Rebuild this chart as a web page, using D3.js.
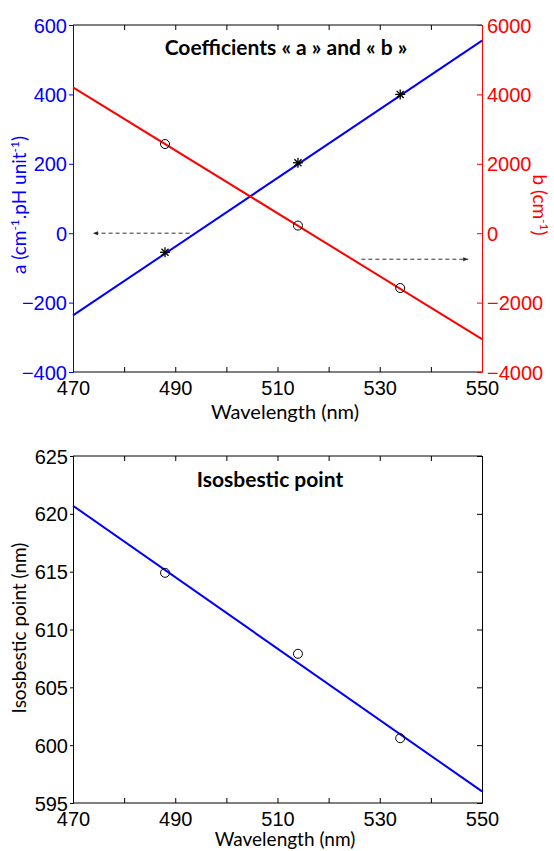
<!DOCTYPE html>
<html>
<head>
<meta charset="utf-8">
<script src="https://cdn.jsdelivr.net/npm/d3@7"></script>
<style>
  body { margin: 0; background: #fff; }
  svg { display: block; font-family: Lato, "Open Sans", sans-serif; }
</style>
</head>
<body>
<svg id="chart" width="554" height="851"></svg>
<script>
// measured wavelengths (nm)
const wavelengths = [488, 514, 534];
// coefficient a (cm-1.pH unit-1) and b (cm-1)
const aValues = [-55, 203, 400];
const bValues = [2570, 220, -1580];
// linear fits drawn across the whole range
const fitX = [470, 550];
const aFit = [-237, 555];
const bFit = [4200, -3050];
// isosbestic point (nm)
const isoValues = [614.9, 607.9, 600.6];
const isoFit = [620.7, 596.0];
// arrows pointing to the matching axis
const arrowA = { x: [492.8, 473.9], y: 0 };
const arrowB = { x: [526.4, 547.3], y: -750 };

const xTicks = [470, 490, 510, 530, 550];
const xMinor = d3.range(470, 551, 10);
const aTicks = [-400, -200, 0, 200, 400, 600];
const bTicks = [-4000, -2000, 0, 2000, 4000, 6000];
const isoTicks = [595, 600, 605, 610, 615, 620, 625];

const BLUE = "#0000ff", RED = "#ff0000";
const FS = 20;
const svg = d3.select("#chart");
const L = 73, R = 482;

const x = d3.scaleLinear().domain([470, 550]).range([L, R]);
const ya = d3.scaleLinear().domain([-400, 600]).range([372, 25]);
const yb = d3.scaleLinear().domain([-4000, 6000]).range([372, 25]);
const yi = d3.scaleLinear().domain([595, 625]).range([803, 456]);

const defs = svg.append("defs");
defs.append("marker").attr("id", "arr")
  .attr("viewBox", "0 -5 10 10").attr("refX", 10).attr("refY", 0)
  .attr("markerWidth", 5).attr("markerHeight", 5).attr("orient", "auto")
  .append("path").attr("d", "M0,-4L10,0L0,4Z").attr("fill", "#222");

function xAxes(g, y0, y1) {
  // bottom with labels, ticks inward
  g.append("g").attr("transform", `translate(0,${y0})`)
    .call(d3.axisBottom(x).tickValues(xMinor).tickSize(-5).tickFormat(d => xTicks.includes(d) ? d : ""))
    .call(s => s.select(".domain").remove())
    .call(s => s.selectAll("text").attr("dy", "1.0em").attr("font-size", FS).attr("fill", "#000"));
  g.append("g").attr("transform", `translate(0,${y1})`)
    .call(d3.axisTop(x).tickValues(xMinor).tickSize(-5).tickFormat(""))
    .call(s => s.select(".domain").remove());
  g.append("line").attr("x1", L).attr("x2", R).attr("y1", y0).attr("y2", y0).attr("stroke", "#000");
  g.append("line").attr("x1", L).attr("x2", R).attr("y1", y1).attr("y2", y1).attr("stroke", "#000");
}

function star(g, cx, cy) {
  const r = 5;
  const p = g.append("g").attr("stroke", "#000").attr("stroke-width", 1.3);
  [0, 45, 90, 135].forEach(a => {
    const t = a * Math.PI / 180;
    p.append("line").attr("x1", cx - r * Math.cos(t)).attr("y1", cy - r * Math.sin(t))
      .attr("x2", cx + r * Math.cos(t)).attr("y2", cy + r * Math.sin(t));
  });
}

// ---------- top plot ----------
const gTop = svg.append("g");
xAxes(gTop, 372, 25);

gTop.append("g").attr("transform", `translate(${L},0)`)
  .call(d3.axisLeft(ya).tickValues(aTicks).tickSize(4).tickPadding(2))
  .call(s => s.select(".domain").attr("stroke", BLUE))
  .call(s => s.selectAll("line").attr("stroke", BLUE))
  .call(s => s.selectAll("text").attr("fill", BLUE).attr("font-size", FS).attr("dy", "0.35em"));

gTop.append("g").attr("transform", `translate(${R},0)`)
  .call(d3.axisRight(yb).tickValues(bTicks).tickSize(-5).tickPadding(5).tickFormat(d3.format("d")))
  .call(s => s.select(".domain").attr("stroke", RED))
  .call(s => s.selectAll("line").attr("stroke", RED))
  .call(s => s.selectAll("text").attr("fill", RED).attr("font-size", FS).attr("dy", "0.35em"));

const line2 = (ys) => d3.line().x((d, i) => x(fitX[i])).y(d => ys(d));
gTop.append("path").datum(aFit).attr("d", line2(ya)).attr("fill", "none").attr("stroke", BLUE).attr("stroke-width", 2);
gTop.append("path").datum(bFit).attr("d", line2(yb)).attr("fill", "none").attr("stroke", RED).attr("stroke-width", 2);

wavelengths.forEach((w, i) => star(gTop, x(w), ya(aValues[i])));
gTop.selectAll(".bc").data(bValues).join("circle")
  .attr("cx", (d, i) => x(wavelengths[i])).attr("cy", d => yb(d)).attr("r", 4.5)
  .attr("fill", "none").attr("stroke", "#000").attr("stroke-width", 1);

gTop.append("line").attr("x1", x(arrowA.x[0])).attr("x2", x(arrowA.x[1]))
  .attr("y1", ya(arrowA.y)).attr("y2", ya(arrowA.y))
  .attr("stroke", "#333").attr("stroke-dasharray", "4,3").attr("marker-end", "url(#arr)");
gTop.append("line").attr("x1", x(arrowB.x[0])).attr("x2", x(arrowB.x[1]))
  .attr("y1", yb(arrowB.y)).attr("y2", yb(arrowB.y))
  .attr("stroke", "#333").attr("stroke-dasharray", "4,3").attr("marker-end", "url(#arr)");

gTop.append("text").attr("x", 286).attr("y", 55).attr("text-anchor", "middle")
  .attr("font-size", 21).attr("font-weight", "bold").text("Coefficients « a » and « b »");

const aLab = gTop.append("text").attr("transform", "translate(26,205) rotate(-90)")
  .attr("text-anchor", "middle").attr("fill", BLUE).attr("font-size", 19);
aLab.append("tspan").text("a (cm");
aLab.append("tspan").attr("font-size", 12).attr("dy", -7).text("-1");
aLab.append("tspan").attr("dy", 7).text(".pH unit");
aLab.append("tspan").attr("font-size", 12).attr("dy", -7).text("-1");
aLab.append("tspan").attr("dy", 7).text(")");

const bLab = gTop.append("text").attr("transform", "translate(533,205) rotate(90)")
  .attr("text-anchor", "middle").attr("fill", RED).attr("font-size", 19);
bLab.append("tspan").text("b (cm");
bLab.append("tspan").attr("font-size", 12).attr("dy", -7).text("-1");
bLab.append("tspan").attr("dy", 7).text(")");

gTop.append("text").attr("x", 285).attr("y", 419).attr("text-anchor", "middle")
  .attr("font-size", FS).text("Wavelength (nm)");

// ---------- bottom plot ----------
const gBot = svg.append("g");
xAxes(gBot, 803, 456);
gBot.append("g").attr("transform", `translate(${L},0)`)
  .call(d3.axisLeft(yi).tickValues(isoTicks).tickSize(3).tickPadding(2))
  .call(s => s.selectAll("text").attr("font-size", FS).attr("fill", "#000").attr("dy", "0.35em"));
gBot.append("g").attr("transform", `translate(${R},0)`)
  .call(d3.axisRight(yi).tickValues(isoTicks).tickSize(-5).tickFormat(""));

gBot.append("path").datum(isoFit).attr("d", line2(yi)).attr("fill", "none").attr("stroke", BLUE).attr("stroke-width", 2);
gBot.selectAll(".ic").data(isoValues).join("circle")
  .attr("cx", (d, i) => x(wavelengths[i])).attr("cy", d => yi(d)).attr("r", 4.5)
  .attr("fill", "none").attr("stroke", "#000").attr("stroke-width", 1);

gBot.append("text").attr("x", 270).attr("y", 487).attr("text-anchor", "middle")
  .attr("font-size", 21).attr("font-weight", "bold").text("Isosbestic point");
gBot.append("text").attr("transform", "translate(26,628) rotate(-90)")
  .attr("text-anchor", "middle").attr("font-size", 19).text("Isosbestic point (nm)");
gBot.append("text").attr("x", 285).attr("y", 846).attr("text-anchor", "middle")
  .attr("font-size", 19).text("Wavelength (nm)");
</script>
</body>
</html>
